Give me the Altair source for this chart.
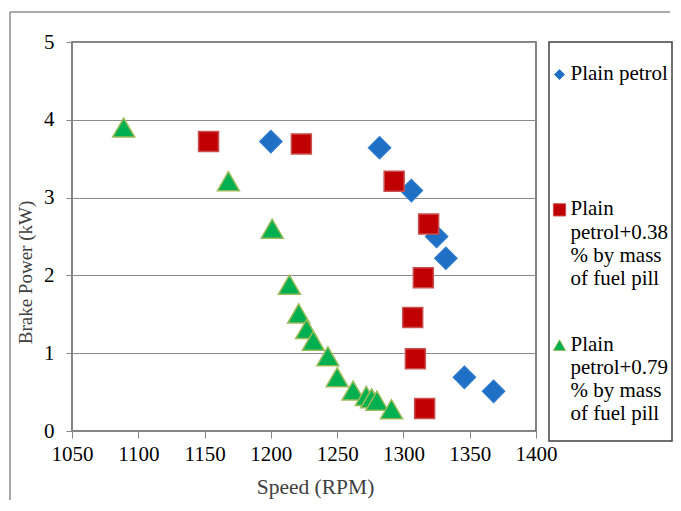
import altair as alt
import pandas as pd

series_names = [
    "Plain petrol",
    "Plain petrol+0.38 % by mass of fuel pill",
    "Plain petrol+0.79 % by mass of fuel pill",
]
legend_text = [
    "Plain petrol",
    "Plain\npetrol+0.38\n% by mass\nof fuel pill",
    "Plain\npetrol+0.79\n% by mass\nof fuel pill",
]

petrol_rpm = [1200, 1282, 1306, 1325, 1332, 1346, 1368]
petrol_kw = [3.72, 3.64, 3.09, 2.50, 2.22, 0.69, 0.51]

pill038_rpm = [1153, 1223, 1293, 1319, 1315, 1307, 1309, 1316]
pill038_kw = [3.72, 3.69, 3.21, 2.66, 1.97, 1.46, 0.93, 0.29]

pill079_rpm = [1089, 1168, 1201, 1214, 1221, 1227, 1232, 1243, 1250, 1262, 1272, 1276, 1280, 1291]
pill079_kw = [3.90, 3.21, 2.60, 1.88, 1.51, 1.31, 1.16, 0.96, 0.69, 0.52, 0.45, 0.42, 0.39, 0.28]

x_ticks = [1050, 1100, 1150, 1200, 1250, 1300, 1350, 1400]
y_ticks = [0, 1, 2, 3, 4, 5]

FONT = "Liberation Serif"
fills = ["#1F6FC5", "#C00000", "#00B050"]
strokes = ["#2A78CC", "#C9504F", "#9BBB59"]
shapes = ["diamond", "square", "triangle-up"]
sizes = [484, 400, 484]
legend_sizes = [100, 150, 150]

W, H = 464, 389

def sdf(rpm, kw, name):
    return pd.DataFrame({"rpm": rpm, "kw": kw, "series": name})

dfs = [
    sdf(petrol_rpm, petrol_kw, series_names[0]),
    sdf(pill038_rpm, pill038_kw, series_names[1]),
    sdf(pill079_rpm, pill079_kw, series_names[2]),
]

x_enc = alt.X(
    "rpm:Q",
    scale=alt.Scale(domain=[1050, 1400], nice=False, zero=False),
    axis=alt.Axis(values=x_ticks, format="d", title="Speed (RPM)", grid=False,
                  tickSize=7, labelPadding=5, titlePadding=12, labelFlush=False,
                  titleX=243, titleFontSize=21.5),
)
y_enc = alt.Y(
    "kw:Q",
    scale=alt.Scale(domain=[0, 5], nice=False),
    axis=alt.Axis(values=y_ticks, format="d", title="Brake Power (kW)", grid=True,
                  tickSize=6, labelPadding=12, titlePadding=8, labelFlush=False,
                  titleY=230, titleFontSize=19),
)

layers = []
for i, d in enumerate(dfs):
    layers.append(
        alt.Chart(d).mark_point(
            shape=shapes[i], filled=True, size=sizes[i], fill=fills[i],
            stroke=strokes[i], strokeWidth=1.5, opacity=1,
        ).encode(x=x_enc, y=y_enc)
    )

frame_df = pd.DataFrame({"a": [0]})
left_border = alt.Chart(frame_df).mark_rule(color="#8c8c8c", strokeWidth=1.5).encode(
    x=alt.value(-62), y=alt.value(-30), y2=alt.value(458)
)
top_border = alt.Chart(frame_df).mark_rule(color="#8c8c8c", strokeWidth=1.5).encode(
    x=alt.value(-62), x2=alt.value(598), y=alt.value(-30)
)

plot = alt.layer(left_border, top_border, *layers).properties(
    width=W, height=H,
    view=alt.ViewBackground(stroke="#5a5a5a", strokeWidth=1.5),
)

leg_df = pd.DataFrame({"row": [0, 1, 2], "label": legend_text, "series": series_names})
ly = alt.Y("row:Q", scale=alt.Scale(domain=[-0.241, 2.709], reverse=True, nice=False, zero=False), axis=None)

leg_layers = []
for i in range(3):
    leg_layers.append(
        alt.Chart(leg_df).transform_filter(alt.datum.row == i).mark_point(
            shape=shapes[i], filled=True, size=legend_sizes[i], fill=fills[i],
            stroke=strokes[i], strokeWidth=1, opacity=1,
        ).encode(x=alt.value(10.5), y=ly)
    )
leg_text = alt.Chart(leg_df).mark_text(
    align="left", baseline="top", lineBreak="\n", font=FONT, fontSize=21,
    lineHeight=23.3, dy=-11.5, color="#000000",
).encode(x=alt.value(21.5), y=ly, text="label:N")

legend = alt.layer(*leg_layers, leg_text).properties(
    width=123, height=399,
    view=alt.ViewBackground(stroke="#404040", strokeWidth=1.5),
)

chart = alt.hconcat(plot, legend, spacing=13, bounds="flush").properties(
    padding={"left": 0, "top": 2, "right": 0, "bottom": 0},
).configure_axis(
    labelFont=FONT, titleFont=FONT, labelFontSize=21, titleFontSize=21,
    titleFontWeight="normal", labelColor="#000000", titleColor="#404040",
    domainColor="#868686", tickColor="#868686", gridColor="#8c8c8c",
    domainWidth=1, tickWidth=1, gridWidth=1,
).configure_view(stroke=None)

chart.save("out.html", embed_options={"renderer": "svg", "actions": False})
